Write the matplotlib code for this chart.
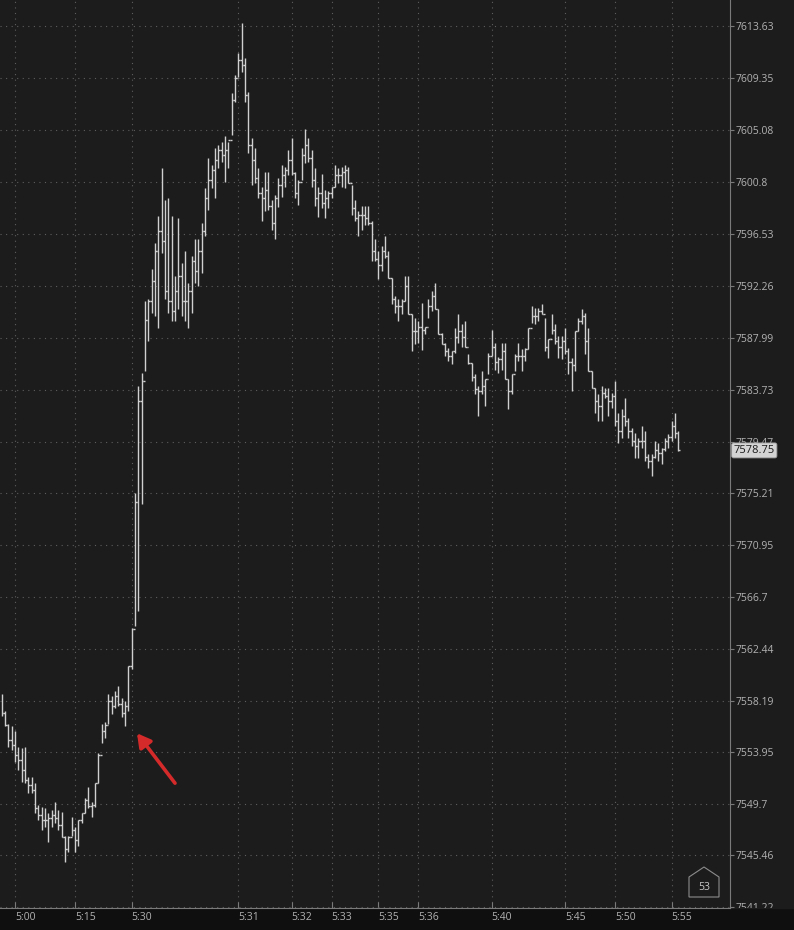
import numpy as np
import matplotlib.pyplot as plt
from matplotlib.patches import Polygon, Rectangle
from matplotlib.transforms import Bbox, TransformedBbox, blended_transform_factory

plt.rcParams['font.family'] = ['Open Sans', 'DejaVu Sans']

# tick bars (one bar per ~3 px), oldest first
highs = [
    7558.77, 7557.37, 7556.30, 7556.13, 7555.72, 7554.36, 7554.28, 7554.36, 7551.89, 7551.89,
    7551.40, 7549.62, 7549.45, 7549.37, 7548.96, 7549.21, 7549.86, 7549.21, 7549.04, 7547.02,
    7547.02, 7548.63, 7547.81, 7548.38, 7548.96, 7550.19, 7551.10, 7549.86, 7551.40, 7553.87,
    7556.30, 7556.39, 7558.77, 7558.60, 7559.01, 7559.42, 7558.44, 7558.19, 7561.04, 7564.17,
    7575.21, 7584.06, 7585.13, 7591.03, 7591.20, 7593.66, 7595.79, 7598.01, 7601.95, 7599.30,
    7599.48, 7598.01, 7593.08, 7597.85, 7594.15, 7595.13, 7592.51, 7594.73, 7596.12, 7596.12,
    7597.42, 7600.31, 7602.77, 7602.20, 7603.59, 7603.84, 7604.09, 7604.59, 7604.09, 7608.12,
    7609.60, 7611.41, 7613.88, 7610.99, 7608.20, 7604.42, 7603.59, 7601.95, 7600.39, 7601.62,
    7601.62, 7599.30, 7599.71, 7601.13, 7602.20, 7602.03, 7603.43, 7604.42, 7601.62, 7600.96,
    7603.59, 7605.16, 7604.42, 7603.43, 7601.95, 7600.39, 7601.46, 7600.14, 7600.06, 7600.39,
    7602.20, 7601.95, 7602.03, 7602.20, 7602.03, 7600.55, 7599.30, 7598.40, 7598.81, 7598.81,
    7598.81, 7597.57, 7596.12, 7595.13, 7595.54, 7596.37, 7595.13, 7592.92, 7591.44, 7591.19,
    7591.19, 7593.08, 7593.08, 7589.96, 7589.63, 7589.38, 7590.86, 7588.89, 7591.19, 7591.85,
    7592.51, 7590.37, 7588.40, 7587.58, 7587.17, 7586.92, 7588.81, 7589.96, 7589.14, 7589.38,
    7586.67, 7585.93, 7585.05, 7584.06, 7585.29, 7584.63, 7586.76, 7588.65, 7587.58, 7586.43,
    7587.58, 7587.58, 7584.63, 7585.05, 7586.67, 7587.58, 7587.09, 7587.17, 7588.81, 7590.62,
    7590.45, 7590.45, 7590.78, 7589.63, 7587.90, 7589.96, 7589.14, 7588.15, 7588.15, 7588.81,
    7587.17, 7586.34, 7588.56, 7589.63, 7590.37, 7590.04, 7588.81, 7585.29, 7583.89, 7583.40,
    7584.06, 7583.89, 7583.89, 7583.48, 7584.47, 7581.85, 7582.17, 7583.07, 7581.44, 7580.62,
    7580.21, 7579.80, 7580.78, 7580.37, 7578.48, 7578.48, 7579.55, 7579.39, 7578.98, 7579.80,
    7580.13, 7581.20, 7581.85, 7580.37,
]
lows = [
    7556.96, 7556.13, 7554.36, 7554.11, 7553.13, 7552.47, 7551.48, 7551.40, 7550.60, 7550.60,
    7548.96, 7548.38, 7547.56, 7547.81, 7546.53, 7547.81, 7548.13, 7547.56, 7546.94, 7544.88,
    7545.71, 7547.02, 7545.71, 7546.20, 7548.13, 7548.96, 7549.37, 7548.63, 7549.45, 7551.40,
    7554.69, 7555.15, 7556.30, 7557.12, 7557.61, 7557.78, 7556.80, 7556.13, 7557.37, 7560.80,
    7564.33, 7565.55, 7574.31, 7585.28, 7587.74, 7590.04, 7589.79, 7588.81, 7594.97, 7591.19,
    7590.04, 7589.39, 7589.39, 7590.37, 7589.79, 7589.39, 7588.81, 7590.04, 7592.51, 7592.26,
    7593.33, 7596.37, 7598.48, 7600.31, 7599.48, 7601.95, 7602.44, 7600.80, 7601.95, 7604.67,
    7607.38, 7609.43, 7609.85, 7607.38, 7603.19, 7600.55, 7600.72, 7599.46, 7597.57, 7598.40,
    7598.48, 7596.86, 7596.12, 7598.73, 7599.55, 7600.39, 7601.38, 7601.38, 7599.46, 7598.90,
    7600.96, 7602.36, 7602.44, 7600.39, 7598.81, 7597.93, 7598.65, 7597.83, 7598.65, 7599.46,
    7600.39, 7600.72, 7600.39, 7600.31, 7600.72, 7598.07, 7597.57, 7596.37, 7596.86, 7597.25,
    7597.25, 7594.31, 7594.31, 7592.84, 7593.49, 7594.56, 7592.92, 7590.78, 7590.04, 7589.38,
    7589.96, 7591.03, 7589.96, 7586.92, 7587.49, 7587.58, 7587.00, 7588.32, 7589.63, 7590.21,
    7590.37, 7588.32, 7587.49, 7586.51, 7586.10, 7585.85, 7586.76, 7587.58, 7587.25, 7587.25,
    7585.85, 7584.47, 7583.40, 7581.59, 7583.40, 7582.42, 7585.01, 7586.51, 7585.36, 7585.12,
    7585.36, 7584.63, 7582.17, 7583.40, 7585.29, 7586.10, 7585.29, 7586.10, 7587.09, 7589.22,
    7589.14, 7589.38, 7589.96, 7586.92, 7586.34, 7588.32, 7587.49, 7586.34, 7586.26, 7586.67,
    7585.05, 7583.65, 7585.29, 7588.56, 7589.14, 7586.67, 7585.29, 7583.89, 7581.84, 7581.20,
    7581.20, 7583.07, 7581.59, 7582.25, 7580.78, 7579.39, 7579.80, 7580.78, 7579.80, 7579.14,
    7578.15, 7578.15, 7578.98, 7577.90, 7577.34, 7576.68, 7578.15, 7577.90, 7577.67, 7578.73,
    7578.98, 7579.55, 7579.80, 7578.70,
]
closes = [
    7557.20, 7556.21, 7554.94, 7554.53, 7553.70, 7553.29, 7552.47, 7551.65, 7551.26, 7550.85,
    7549.37, 7548.80, 7548.38, 7548.38, 7548.54, 7548.80, 7548.54, 7547.97, 7546.99, 7545.95,
    7546.99, 7547.56, 7546.76, 7548.38, 7548.96, 7550.03, 7549.54, 7549.62, 7551.40, 7553.70,
    7555.72, 7556.21, 7558.19, 7557.78, 7558.60, 7557.94, 7557.20, 7557.78, 7561.04, 7564.08,
    7574.55, 7582.83, 7584.47, 7589.46, 7591.03, 7592.67, 7595.13, 7596.78, 7595.95, 7591.85,
    7591.03, 7590.21, 7591.85, 7593.08, 7591.03, 7591.03, 7591.85, 7594.32, 7593.49, 7595.13,
    7596.78, 7599.46, 7600.96, 7601.79, 7602.61, 7603.43, 7603.02, 7603.43, 7604.26, 7607.55,
    7609.35, 7610.84, 7610.43, 7607.96, 7603.84, 7602.61, 7601.13, 7599.88, 7599.46, 7600.14,
    7598.81, 7597.42, 7599.46, 7600.55, 7601.38, 7601.79, 7602.61, 7601.54, 7599.88, 7600.80,
    7603.02, 7603.84, 7602.77, 7600.96, 7599.46, 7599.88, 7599.05, 7599.46, 7599.88, 7600.39,
    7601.38, 7601.38, 7601.62, 7601.79, 7600.72, 7598.65, 7597.83, 7598.07, 7598.07, 7597.83,
    7597.42, 7595.13, 7594.47, 7594.00, 7595.13, 7594.73, 7592.92, 7591.19, 7590.62, 7590.62,
    7591.03, 7592.26, 7589.96, 7588.53, 7588.53, 7588.89, 7588.65, 7588.89, 7590.62, 7591.44,
    7590.37, 7588.32, 7587.49, 7586.92, 7586.51, 7586.92, 7588.07, 7588.53, 7588.07, 7587.25,
    7585.93, 7584.80, 7583.81, 7583.65, 7584.06, 7584.63, 7586.51, 7587.25, 7586.01, 7586.30,
    7586.92, 7584.63, 7583.65, 7585.05, 7586.51, 7586.51, 7586.51, 7587.09, 7588.81, 7589.79,
    7589.79, 7590.21, 7589.96, 7587.25, 7587.90, 7588.65, 7587.74, 7587.25, 7587.74, 7586.92,
    7586.01, 7585.77, 7588.56, 7589.38, 7589.79, 7587.74, 7585.29, 7583.89, 7582.83, 7582.42,
    7583.48, 7583.24, 7582.83, 7583.24, 7581.20, 7580.37, 7581.59, 7581.20, 7580.37, 7579.55,
    7579.14, 7579.55, 7579.55, 7578.24, 7577.90, 7578.24, 7578.82, 7578.57, 7578.90, 7579.55,
    7579.88, 7580.78, 7580.21, 7578.75,
]

price_ticks = [7613.63, 7609.35, 7605.08, 7600.80, 7596.53, 7592.26, 7587.99, 7583.73, 7579.47,
               7575.21, 7570.95, 7566.70, 7562.44, 7558.19, 7553.95, 7549.70, 7545.46, 7541.22]
time_labels = ['5:00', '5:15', '5:30', '5:31', '5:32', '5:33', '5:35', '5:36',
               '5:40', '5:45', '5:50', '5:55']
time_bars = [4, 22, 39, 71, 87, 99, 113, 125, 147, 169, 184, 201]
bar_count = '53'

bar_color = '#d0d0d0'
fig = plt.figure(figsize=(7.94, 9.30), dpi=100, facecolor='#0f0f0f')
ax_l, ax_b, ax_w = 0.0, 22 / 930, 730 / 794
ax = fig.add_axes([ax_l, ax_b, ax_w, 1 - ax_b])
ax.set_facecolor('#1c1c1c')
# price scale panel shares the chart background
fig.add_artist(Rectangle((ax_w, ax_b), 1 - ax_w, 1 - ax_b, transform=fig.transFigure,
                         color='#1c1c1c', zorder=-1))

x = np.arange(len(highs))
ax.vlines(x, lows, highs, color=bar_color, lw=1.0)
ax.hlines(closes, x, x + 0.5, color=bar_color, lw=1.0)
# open tick = previous close
ax.hlines(closes[:-1], x[1:] - 0.5, x[1:], color=bar_color, lw=1.0)

ax.set_xlim(-0.5, 218.5)
ax.set_ylim(7541.14, 7615.77)

ax.set_yticks(price_ticks)
ax.set_yticklabels([f'{v:.2f}'.rstrip('0').rstrip('.') for v in price_ticks])
ax.yaxis.tick_right()
ax.tick_params(axis='y', colors='#7a7a7a', labelcolor='#b2b2b2', length=3, width=0.8,
               pad=1, labelsize=7.5, direction='out')
ax.set_xticks(time_bars)
ax.set_xticklabels(time_labels)
ax.tick_params(axis='x', colors='#7a7a7a', labelcolor='#b2b2b2', length=4, width=0.8,
               pad=3, labelsize=7.5, direction='in')
for lab in ax.get_xticklabels():
    lab.set_ha('left')

clip = TransformedBbox(Bbox([[ax_w, ax_b], [1, 1]]), fig.transFigure)
for lab in ax.get_yticklabels():
    lab.set_clip_box(clip)
    lab.set_clip_on(True)

for side in ['top', 'left']:
    ax.spines[side].set_visible(False)
for side in ['right', 'bottom']:
    ax.spines[side].set_color('#7a7a7a')
    ax.spines[side].set_linewidth(0.8)

ax.set_axisbelow(True)
ax.grid(True, color='#5e5e5e', linestyle=(0, (1, 4)), lw=0.8)

# last price marker on the scale
trans = blended_transform_factory(ax.transAxes, ax.transData)
ax.text(1.005, closes[-1], f'{closes[-1]:.2f}', transform=trans, va='center', ha='left',
        fontsize=8, color='#1a1a1a', clip_on=False, zorder=10,
        bbox=dict(boxstyle='round,pad=0.18', fc='#d4d4d4', ec='#9a9a9a', lw=0.6))

# red arrow pointing at the breakout bar
ax.annotate('', xy=(40.6, 7555.5), xytext=(52, 7551.4),
            arrowprops=dict(arrowstyle='-|>,head_length=0.8,head_width=0.45',
                            color='#d42a2a', lw=2.6, shrinkA=0, shrinkB=0))

# bar counter badge
badge = [(689 / 794, 1 - 897 / 930), (689 / 794, 1 - 877 / 930), (704 / 794, 1 - 867 / 930),
         (719 / 794, 1 - 877 / 930), (719 / 794, 1 - 897 / 930)]
fig.add_artist(Polygon(badge, closed=True, transform=fig.transFigure, fill=False,
                       ec='#8c8c8c', lw=0.8))
fig.text(704 / 794, 1 - 887 / 930, bar_count, ha='center', va='center', fontsize=7.5,
         color='#c8c8c8')

fig.savefig('out.png', dpi=100, facecolor=fig.get_facecolor())
